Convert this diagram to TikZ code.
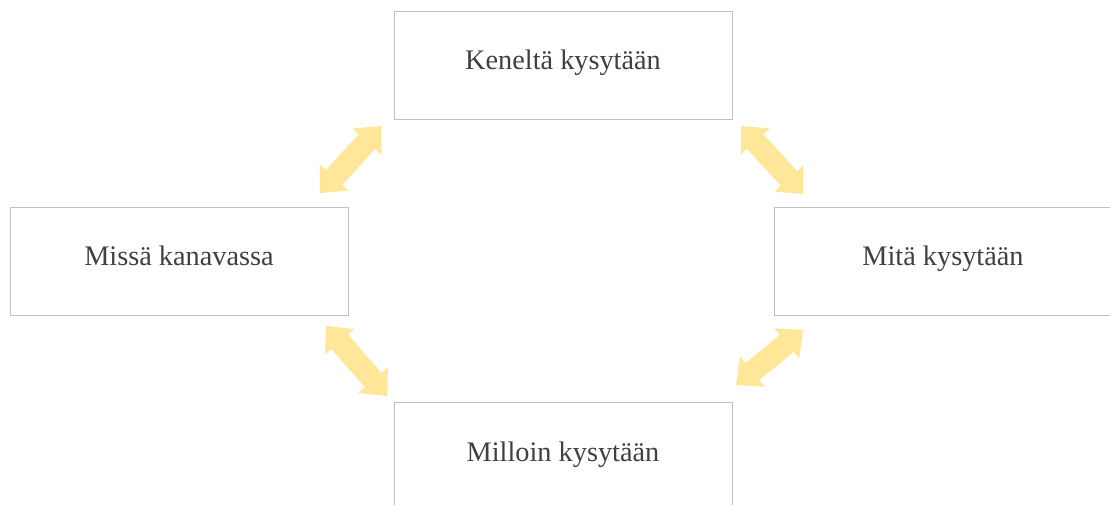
\documentclass[tikz,border=0pt]{standalone}
\usepackage{fontspec}
\setmainfont{Liberation Serif}
\usetikzlibrary{calc}
\definecolor{arrowyellow}{HTML}{FFE699}
\definecolor{boxgray}{HTML}{BFBFBF}
\definecolor{textgray}{HTML}{404040}
\newcommand{\yhl}{21pt}
\newcommand{\yhw}{19.5pt}
\newcommand{\ysw}{11pt}
\newcommand{\yellowlink}[2]{%
  \fill[link] (#1)
    -- ($(#1)!\yhl!(#2)!\yhw!90:(#2)$) -- ($(#1)!\yhl!(#2)!\ysw!90:(#2)$)
    -- ($(#2)!\yhl!(#1)!\ysw!-90:(#1)$) -- ($(#2)!\yhl!(#1)!\yhw!-90:(#1)$)
    -- (#2)
    -- ($(#2)!\yhl!(#1)!\yhw!90:(#1)$) -- ($(#2)!\yhl!(#1)!\ysw!90:(#1)$)
    -- ($(#1)!\yhl!(#2)!\ysw!-90:(#2)$) -- ($(#1)!\yhl!(#2)!\yhw!-90:(#2)$)
    -- cycle;}
\begin{document}
\begin{tikzpicture}[x=1pt,y=-1pt,
  box/.style={draw=boxgray, line width=1pt, rectangle, minimum width=338pt, minimum height=108pt,
    inner sep=0pt, text height=19pt, text depth=10pt, text=textgray, font=\fontsize{28.3}{32}\selectfont},
  link/.style={fill=arrowyellow}]
\useasboundingbox (0,0) rectangle (1110,504);
\clip (0,0) rectangle (1110,504);
\fill[white] (0,0) rectangle (1110,504);

\node[box, anchor=north west] (top) at (393.5,10.5) {Keneltä kysytään};
\node[box, anchor=north west] (left) at (9.5,206.5) {Missä kanavassa};
\node[box, anchor=north west] (right) at (773.5,206.5) {Mitä kysytään};
\node[box, anchor=north west] (bottom) at (393.5,402) {Milloin kysytään};

\coordinate (a1s) at (320,193);
\coordinate (a1e) at (381,126);
\coordinate (a2s) at (741,126);
\coordinate (a2e) at (803,194);
\coordinate (a3s) at (326,326);
\coordinate (a3e) at (387,396);
\coordinate (a4s) at (803,330);
\coordinate (a4e) at (736,385);

\yellowlink{a1s}{a1e}
\yellowlink{a2s}{a2e}
\yellowlink{a3s}{a3e}
\yellowlink{a4s}{a4e}
\end{tikzpicture}
\end{document}
